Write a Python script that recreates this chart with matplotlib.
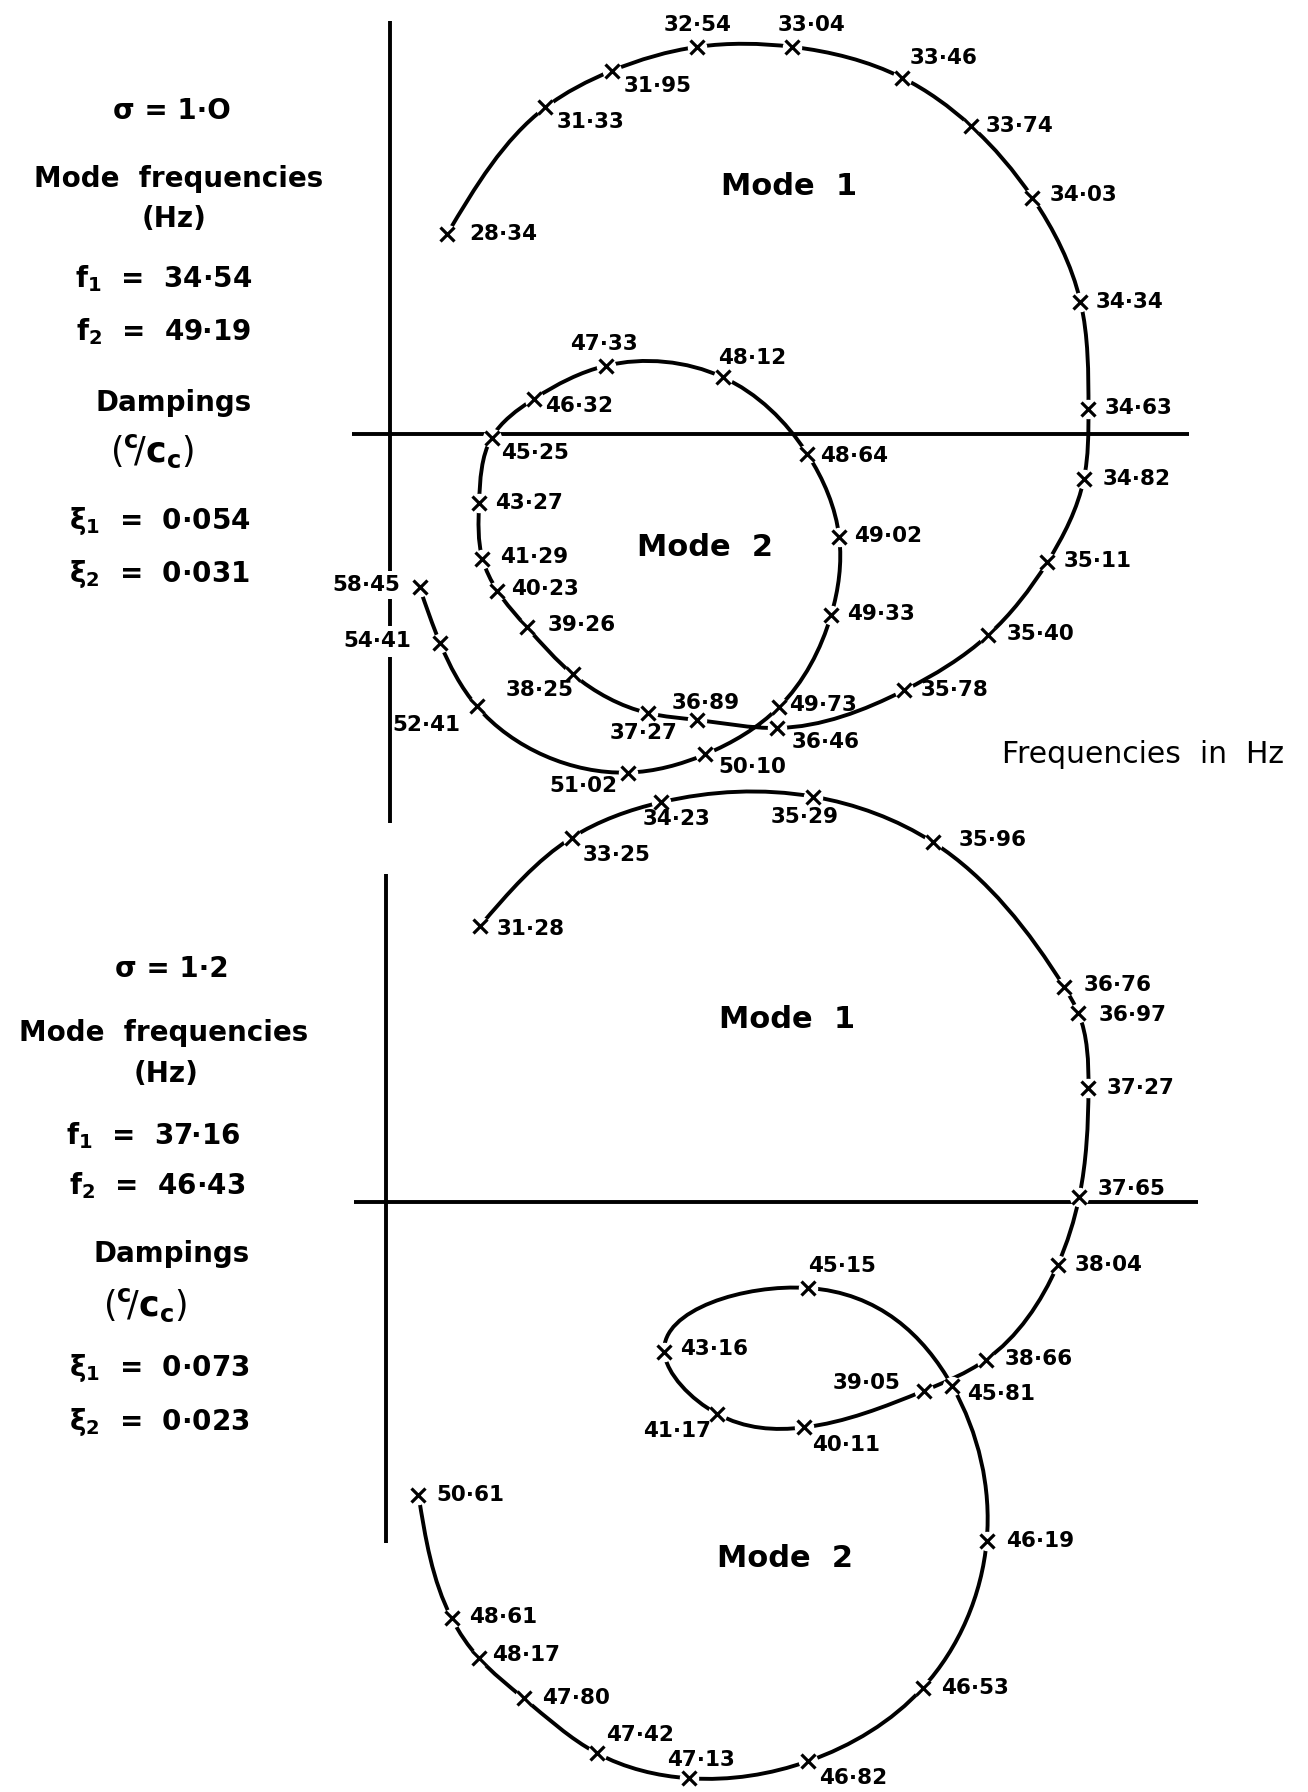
import numpy as np
import matplotlib
matplotlib.use("Agg")
import matplotlib.pyplot as plt
from matplotlib.path import Path
from matplotlib.patches import PathPatch

plt.rcParams['font.family'] = ['DejaVu Sans']
plt.rcParams['mathtext.fontset'] = 'dejavusans'

# ---------------- data (Nyquist plot: real / imaginary parts, arbitrary units) -------------
# sigma = 1.0
top_freq = [28.34, 31.33, 31.95, 32.54, 33.04, 33.46, 33.74, 34.03, 34.34, 34.63,
            34.82, 35.11, 35.40, 35.78, 36.46, 36.89, 37.27, 38.25, 39.26, 40.23,
            41.29, 43.27, 45.25, 46.32, 47.33, 48.12, 48.64, 49.02, 49.33, 49.73,
            50.10, 51.02, 52.41, 54.41, 58.45]
top_re = [0.50, 1.36, 1.94, 2.69, 3.52, 4.48, 5.08, 5.62, 6.04, 6.11,
          6.07, 5.75, 5.23, 4.50, 3.39, 2.69, 2.26, 1.60, 1.20, 0.94,
          0.81, 0.78, 0.89, 1.26, 1.89, 2.91, 3.65, 3.93, 3.86, 3.40,
          2.76, 2.08, 0.76, 0.44, 0.26]
top_im = [1.75, 2.86, 3.18, 3.39, 3.39, 3.12, 2.70, 2.07, 1.16, 0.22,
          -0.39, -1.12, -1.76, -2.24, -2.57, -2.50, -2.44, -2.10, -1.69, -1.37,
          -1.09, -0.60, -0.03, 0.31, 0.60, 0.50, -0.17, -0.90, -1.58, -2.39,
          -2.80, -2.96, -2.38, -1.83, -1.34]

# sigma = 1.2
bot_freq = [31.28, 33.25, 34.23, 35.29, 35.96, 36.76, 36.97, 37.27, 37.65, 38.04,
            38.66, 39.05, 40.11, 41.17, 43.16, 45.15, 45.81, 46.19, 46.53, 46.82,
            47.13, 47.42, 47.80, 48.17, 48.61, 50.61]
bot_re = [0.82, 1.62, 2.40, 3.73, 4.78, 5.93, 6.05, 6.14, 6.06, 5.87,
          5.24, 4.70, 3.65, 2.89, 2.43, 3.69, 4.95, 5.25, 4.69, 3.69,
          2.65, 1.84, 1.20, 0.81, 0.57, 0.28]
bot_im = [2.42, 3.19, 3.50, 3.55, 3.15, 1.88, 1.66, 1.00, 0.05, -0.55,
          -1.38, -1.65, -1.97, -1.85, -1.31, -0.75, -1.61, -2.96, -4.25, -4.89,
          -5.04, -4.82, -4.34, -3.99, -3.64, -2.56]

CC = r"$\left(^{\mathbf{c}}\!/\mathbf{c}_{\mathbf{c}}\right)$"
top_info = ["σ = 1·O", "Mode  frequencies", "(Hz)",
            r"f$_{\mathbf{1}}$  =  34·54", r"f$_{\mathbf{2}}$  =  49·19",
            "Dampings", CC,
            r"ξ$_{\mathbf{1}}$  =  0·054", r"ξ$_{\mathbf{2}}$  =  0·031"]
bot_info = ["σ = 1·2", "Mode  frequencies", "(Hz)",
            r"f$_{\mathbf{1}}$  =  37·16", r"f$_{\mathbf{2}}$  =  46·43",
            "Dampings", CC,
            r"ξ$_{\mathbf{1}}$  =  0·073", r"ξ$_{\mathbf{2}}$  =  0·023"]

# ---------------- layout (design units: 1144 x 1568 canvas) ----------------
W, H = 1144.0, 1568.0
K = (1308.0 / 1144.0) * 0.72   # design px -> points

top_place = [(19, 0, 'left'), (10, 13, 'left'), (10, 13, 'left'), (0, -19, 'center'),
             (17, -19, 'center'), (7, -17, 'left'), (13, 0, 'left'), (15, -2, 'left'),
             (13, 0, 'left'), (14, -1, 'left'), (16, 0, 'left'), (14, -1, 'left'),
             (16, -1, 'left'), (14, 0, 'left'), (12, 12, 'left'), (7, -15, 'center'),
             (-4, 17, 'center'), (1, 14, 'right'), (18, -2, 'left'), (12, -2, 'left'),
             (15, -2, 'left'), (14, 0, 'left'), (8, 13, 'left'), (10, 6, 'left'),
             (-2, -19, 'center'), (26, -17, 'center'), (11, 2, 'left'), (13, -1, 'left'),
             (14, -1, 'left'), (9, -2, 'left'), (11, 11, 'left'), (-9, 12, 'right'),
             (-14, 16, 'right'), (-25, -2, 'right'), (-17, -2, 'right')]
bot_place = [(14, 3, 'left'), (10, 15, 'left'), (14, 15, 'center'), (-7, 18, 'center'),
             (22, -2, 'left'), (17, -2, 'left'), (18, 2, 'left'), (16, 0, 'left'),
             (16, -7, 'left'), (15, 0, 'left'), (17, -1, 'left'), (-20, -7, 'right'),
             (7, 15, 'left'), (-5, 15, 'right'), (14, -3, 'left'), (0, -19, 'left'),
             (13, 7, 'left'), (17, 0, 'left'), (16, 0, 'left'), (9, 15, 'left'),
             (10, -16, 'center'), (8, -16, 'left'), (16, 0, 'left'), (11, -3, 'left'),
             (15, -1, 'left'), (16, 0, 'left')]

top_info_pos = [(150, 97), (156, 157), (152, 192), (143, 244), (143, 290),
                (152, 353), (133, 395), (140, 456), (139, 502)]
bot_info_pos = [(150, 848), (143, 904), (145, 940), (134, 994), (137, 1037),
                (150, 1097), (127, 1142), (139, 1197), (139, 1244)]
info_sizes = [20, 20, 20, 20, 20, 20, 25, 20, 20]

LW = 2.8
LABEL_FS = 15.5


def spline_path(xs, ys):
    """Natural parametric cubic spline, expressed as Bezier segments for matplotlib."""
    P = np.column_stack([xs, ys]).astype(float)
    h = np.sqrt((np.diff(P, axis=0) ** 2).sum(1))
    N = len(P)
    A = np.zeros((N, N))
    R = np.zeros((N, 2))
    A[0, 0] = A[-1, -1] = 1.0
    for i in range(1, N - 1):
        A[i, i - 1] = h[i - 1]
        A[i, i] = 2 * (h[i - 1] + h[i])
        A[i, i + 1] = h[i]
        R[i] = 6 * ((P[i + 1] - P[i]) / h[i] - (P[i] - P[i - 1]) / h[i - 1])
    M = np.linalg.solve(A, R)
    verts = [P[0]]
    codes = [Path.MOVETO]
    for i in range(N - 1):
        s0 = (P[i + 1] - P[i]) / h[i] - h[i] * (2 * M[i] + M[i + 1]) / 6
        s1 = (P[i + 1] - P[i]) / h[i] + h[i] * (M[i] + 2 * M[i + 1]) / 6
        verts += [P[i] + h[i] / 3 * s0, P[i + 1] - h[i] / 3 * s1, P[i + 1]]
        codes += [Path.CURVE4] * 3
    return Path(verts, codes)


fig = plt.figure(figsize=(13.08, 17.92), dpi=100)
fig.patch.set_facecolor('white')


def make_axes(x0, y0):
    ax = fig.add_axes([0, 0, 1, 1])
    ax.set_xlim(-x0 / 100.0, (W - x0) / 100.0)
    ax.set_ylim(-(H - y0) / 100.0, y0 / 100.0)
    ax.axis('off')
    ax.patch.set_alpha(0)
    return ax


def draw_plot(ax, freq, re, im, place, vsegs, hseg):
    for a, b in vsegs:
        ax.plot([0, 0], [a, b], color='black', lw=LW, solid_capstyle='butt', zorder=1)
    ax.plot(hseg, [0, 0], color='black', lw=LW, solid_capstyle='butt', zorder=1)
    ax.add_patch(PathPatch(spline_path(re, im), fill=False, edgecolor='black',
                           lw=LW, capstyle='round', zorder=2))
    ax.plot(re, im, ls='none', marker='o', ms=14, mfc='white', mec='none', zorder=3)
    ax.plot(re, im, ls='none', marker='x', ms=9.5, mew=2.3, color='black', zorder=4)
    for f, x, y, (dx, dy, ha) in zip(freq, re, im, place):
        ax.annotate(f"{f:.2f}".replace('.', '·'), (x, y), xytext=(dx * K, -dy * K),
                    textcoords='offset points', ha=ha, va='center',
                    fontsize=LABEL_FS, fontweight='bold', zorder=5)


ax1 = make_axes(341, 380)
draw_plot(ax1, top_freq, top_re, top_im, top_place,
          [(3.62, -1.20), (-1.44, -1.68), (-1.95, -3.40)], [-0.33, 6.99])
ax1.text(3.49, 2.17, "Mode  1", fontsize=22, fontweight='bold', ha='center', va='center')
ax1.text(2.76, -0.99, "Mode  2", fontsize=22, fontweight='bold', ha='center', va='center')
ax1.text(5.35, -2.80, "Frequencies  in  Hz", fontsize=21.5, ha='left', va='center')

ax2 = make_axes(338, 1052)
draw_plot(ax2, bot_freq, bot_re, bot_im, bot_place,
          [(2.87, -2.98)], [-0.28, 7.10])
ax2.text(3.50, 1.60, "Mode  1", fontsize=22, fontweight='bold', ha='center', va='center')
ax2.text(3.49, -3.12, "Mode  2", fontsize=22, fontweight='bold', ha='center', va='center')

for texts, poss in ((top_info, top_info_pos), (bot_info, bot_info_pos)):
    for t, (x, y), fs in zip(texts, poss, info_sizes):
        fig.text(x / W, 1 - y / H, t, fontsize=fs, fontweight='bold',
                 ha='center', va='center')

fig.savefig("out.png", dpi=100, facecolor='white')
